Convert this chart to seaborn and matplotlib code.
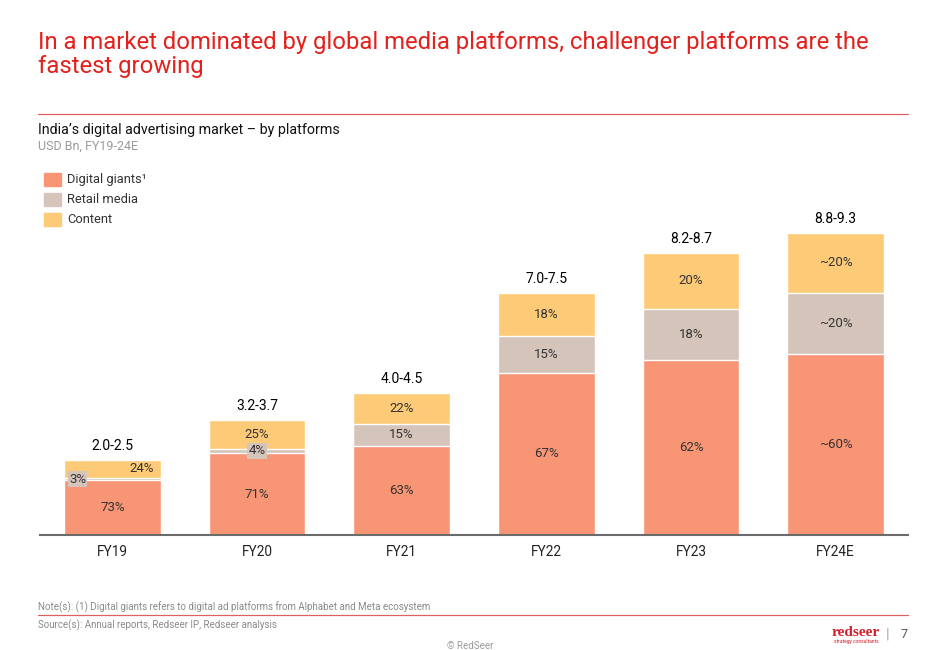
import matplotlib
matplotlib.use("Agg")
import matplotlib.pyplot as plt
import seaborn as sns
import numpy as np

# ---- data ----
years = ["FY19", "FY20", "FY21", "FY22", "FY23", "FY24E"]
range_labels = ["2.0-2.5", "3.2-3.7", "4.0-4.5", "7.0-7.5", "8.2-8.7", "8.8-9.3"]
total_mid = [2.25, 3.45, 4.25, 7.25, 8.45, 9.05]
digital_share = [73, 71, 63, 67, 62, 60]
retail_share = [3, 4, 15, 15, 18, 20]
content_share = [24, 25, 22, 18, 20, 20]
digital_labels = ["73%", "71%", "63%", "67%", "62%", "~60%"]
retail_labels = ["3%", "4%", "15%", "15%", "18%", "~20%"]
content_labels = ["24%", "25%", "22%", "18%", "20%", "~20%"]
series_names = ["Digital giants\u00b9", "Retail media", "Content"]

C_DIG = "#F79574"
C_RET = "#D5C4BA"
C_CON = "#FDCB77"
RED = "#E3201B"

sns.set_theme(style="white")
plt.rcParams["font.family"] = ["Roboto", "DejaVu Sans"]

W, H = 946, 650
fig = plt.figure(figsize=(W / 100, H / 100), dpi=100)

def fx(x):
    return x / W

def fy(y):
    return 1 - y / H

ax = fig.add_axes([fx(40), fy(535), fx(908) - fx(40), (535 - 201) / H])

tot = np.array(total_mid)
dig = tot * np.array(digital_share) / 100
ret = tot * np.array(retail_share) / 100
con = tot * np.array(content_share) / 100

bw = 0.67
sns.barplot(x=years, y=dig + ret + con, color=C_CON, width=bw, edgecolor="white",
            linewidth=1, saturation=1, ax=ax)
sns.barplot(x=years, y=dig + ret, color=C_RET, width=bw, edgecolor="white",
            linewidth=1, saturation=1, ax=ax)
sns.barplot(x=years, y=dig, color=C_DIG, width=bw, edgecolor="white",
            linewidth=1, saturation=1, ax=ax)

ax.set_xlim(-0.5, 5.5)
ax.set_ylim(0, 10)
ax.set_xlabel("")
ax.set_ylabel("")
ax.set_yticks([])
for s in ["top", "right", "left"]:
    ax.spines[s].set_visible(False)
ax.spines["bottom"].set_color("#6b6b6b")
ax.spines["bottom"].set_linewidth(1.5)
ax.tick_params(axis="x", length=0, pad=7, labelsize=9.8, labelcolor="#222222")

lab_kw = dict(ha="center", va="center", fontsize=9.5, color="#333333")
for i in range(len(years)):
    ax.text(i, dig[i] / 2, digital_labels[i], **lab_kw)
    if i == 0:
        ax.text(i - 0.24, dig[i] + ret[i] / 2, retail_labels[i],
                bbox=dict(boxstyle="square,pad=0.1", fc=C_RET, ec="none"), **lab_kw)
        ax.text(i + 0.2, dig[i] + ret[i] + con[i] / 2, content_labels[i], **lab_kw)
    elif i == 1:
        ax.text(i, dig[i] + ret[i] / 2, retail_labels[i],
                bbox=dict(boxstyle="square,pad=0.1", fc=C_RET, ec="none"), **lab_kw)
        ax.text(i, dig[i] + ret[i] + con[i] / 2, content_labels[i], **lab_kw)
    else:
        ax.text(i, dig[i] + ret[i] / 2, retail_labels[i], **lab_kw)
        ax.text(i, dig[i] + ret[i] + con[i] / 2, content_labels[i], **lab_kw)
    ax.annotate(range_labels[i], (i, tot[i]), xytext=(0, 5), textcoords="offset points",
                ha="center", va="bottom", fontsize=10, color="#000000")

# ---- titles ----
fig.text(fx(38), fy(42), "In a market dominated by global media platforms, challenger platforms are the",
         color=RED, fontsize=17.2, va="center", ha="left")
fig.text(fx(38), fy(67), "fastest growing", color=RED, fontsize=17.2, va="center", ha="left")
fig.add_artist(plt.Line2D([fx(38), fx(908)], [fy(114), fy(114)], color="#E06060", lw=0.9))

fig.text(fx(38), fy(130), "India\u2019s digital advertising market \u2013 by platforms",
         fontsize=10.3, color="#111111", va="center")
fig.text(fx(38), fy(146), "USD Bn, FY19-24E", fontsize=9, color="#9a9a9a", va="center")

# legend
for k, (name, c) in enumerate(zip(series_names, [C_DIG, C_RET, C_CON])):
    yc = 179.5 + k * 20
    fig.add_artist(plt.Rectangle((fx(44), fy(yc + 6.5)), fx(17), 13 / H, color=c))
    fig.text(fx(67), fy(yc), name, fontsize=9.3, color="#333333", va="center")

# footer
fig.text(fx(38), fy(607), "Note(s): (1) Digital giants refers to digital ad platforms from Alphabet and Meta ecosystem",
         fontsize=7, color="#8a8a8a", va="center")
fig.add_artist(plt.Line2D([fx(38), fx(908)], [fy(615), fy(615)], color="#E06060", lw=0.9))
fig.text(fx(38), fy(625), "Source(s): Annual reports, Redseer IP, Redseer analysis",
         fontsize=7, color="#8a8a8a", va="center")
fig.text(fx(470), fy(646), "\u00a9 RedSeer", fontsize=7, color="#9a9a9a", va="center", ha="center")
fig.text(fx(856), fy(632), "redseer", fontsize=11, color="#D0202A", fontweight="bold",
         family="Liberation Serif", va="center", ha="center")
fig.text(fx(856), fy(642), "strategy consultants", fontsize=3.5, color="#D0202A",
         va="center", ha="center")
fig.text(fx(888), fy(635), "|", fontsize=11, color="#aaaaaa", va="center", ha="center")
fig.text(fx(904), fy(635), "7", fontsize=9, color="#555555", va="center", ha="center")

fig.savefig("out.png", dpi=100, facecolor="white")
